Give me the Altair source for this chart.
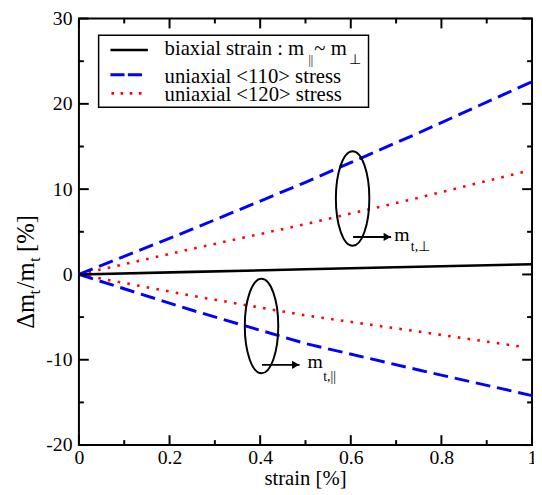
import altair as alt
import pandas as pd

FONT = "Liberation Serif"

# ---- data ----
strain = [0.0, 0.25, 0.5, 0.75, 1.0]
strain_red = [0.0, 0.25, 0.5, 0.75, 0.98]
biaxial = [0.0, 0.3, 0.6, 0.9, 1.2]
u110_perp = [0.0, 5.3, 10.8, 16.6, 22.6]
u110_par = [0.0, -4.2, -8.1, -11.2, -14.2]
u120_perp = [0.0, 3.0, 5.9, 9.0, 12.0]
u120_par = [0.0, -2.5, -4.8, -6.7, -8.5]

x_major = [0, 0.2, 0.4, 0.6, 0.8, 1]
x_minor = [0.1, 0.3, 0.5, 0.7, 0.9]
y_major = [-20, -10, 0, 10, 20, 30]
y_minor = [-15, -5, 5, 15, 25]

ellipse_x = [0.604, 0.403]
ellipse_y = [8.9, -6.05]
arrow_x = [0.605, 0.404]
arrow_x2 = [0.689, 0.487]
arrow_y = [4.4, -10.6]

W, H = 460, 433

xscale = alt.Scale(domain=[0, 1], nice=False, zero=False)
yscale = alt.Scale(domain=[-20, 30], nice=False, zero=False)
xaxis = alt.Axis(values=x_major, ticks=False, domain=False, grid=False, labelFontSize=20,
                 labelFont=FONT, labelPadding=3, labelFlush=False, labelColor="black",
                 labelExpr="'' + datum.value", title=None)
yaxis = alt.Axis(values=y_major, ticks=False, domain=False, grid=False, labelFontSize=20,
                 labelFont=FONT, labelPadding=7, labelColor="black",
                 labelExpr="datum.value < 0 ? '-' + abs(datum.value) : '' + datum.value", title=None)


def X(f):
    return alt.X(f"{f}:Q", scale=xscale, axis=xaxis)


def Y(f):
    return alt.Y(f"{f}:Q", scale=yscale, axis=yaxis)


def branch_df(xs, ys, name):
    return pd.DataFrame({"x": xs, "y": ys, "b": name})


black_df = branch_df(strain, biaxial, "bi")
blue_df = pd.concat([branch_df(strain, u110_perp, "perp"), branch_df(strain, u110_par, "par")])
red_df = pd.concat([branch_df(strain_red, u120_perp, "perp"), branch_df(strain_red, u120_par, "par")])

red = alt.Chart(red_df).mark_line(color="#ff0000", strokeWidth=2.6, strokeDash=[2.6, 7.4],
                                  strokeCap="butt").encode(x=X("x"), y=Y("y"), detail="b:N")
blue = alt.Chart(blue_df).mark_line(color="#0000ff", strokeWidth=3, strokeDash=[15, 7]).encode(
    x=X("x"), y=Y("y"), detail="b:N")
black = alt.Chart(black_df).mark_line(color="black", strokeWidth=2.6).encode(x=X("x"), y=Y("y"))

origin = alt.Chart(pd.DataFrame({"x": [0.0], "y": [0.0]})).mark_point(
    shape="triangle-left", filled=True, color="#0000ff", size=45, xOffset=3, opacity=1
).encode(x=X("x"), y=Y("y"))

# inward ticks on all four sides
ymaj = pd.DataFrame({"y": y_major})
ymin = pd.DataFrame({"y": y_minor})
xmaj = pd.DataFrame({"x": x_major})
xmin = pd.DataFrame({"x": x_minor})
tick_layers = []
for df, L in ((ymaj, 10), (ymin, 5)):
    tick_layers.append(alt.Chart(df).mark_rule(color="black", strokeWidth=2).encode(
        y=Y("y"), x=alt.value(0), x2=alt.value(L)))
    tick_layers.append(alt.Chart(df).mark_rule(color="black", strokeWidth=2).encode(
        y=Y("y"), x=alt.value(W - L), x2=alt.value(W)))
for df, L in ((xmaj, 10), (xmin, 5)):
    tick_layers.append(alt.Chart(df).mark_rule(color="black", strokeWidth=2).encode(
        x=X("x"), y=alt.value(H), y2=alt.value(H - L)))
    tick_layers.append(alt.Chart(df).mark_rule(color="black", strokeWidth=2).encode(
        x=X("x"), y=alt.value(0), y2=alt.value(L)))

# ellipses and arrows
k = 0.5523
a = 0.354
ELL = (f"M 0 -1 C {a*k:.4f} -1 {a:.4f} {-k:.4f} {a:.4f} 0 "
       f"C {a:.4f} {k:.4f} {a*k:.4f} 1 0 1 "
       f"C {-a*k:.4f} 1 {-a:.4f} {k:.4f} {-a:.4f} 0 "
       f"C {-a:.4f} {-k:.4f} {-a*k:.4f} -1 0 -1 Z")
ell_df = pd.DataFrame({"x": ellipse_x, "y": ellipse_y})
ellipses = alt.Chart(ell_df).mark_point(shape=ELL, size=9216, filled=False, color="black",
                                        strokeWidth=2, opacity=1).encode(x=X("x"), y=Y("y"))
arr_df = pd.DataFrame({"x": arrow_x, "x2": arrow_x2, "y": arrow_y})
arrows = alt.Chart(arr_df).mark_rule(color="black", strokeWidth=2).encode(
    x=X("x"), x2="x2:Q", y=Y("y"))
heads = alt.Chart(arr_df).mark_point(shape="triangle-right", filled=True, color="black",
                                     size=70, xOffset=-4, opacity=1).encode(x=X("x2"), y=Y("y"))

one = pd.DataFrame({"k": [0]})


def txt(s, px, py, size=21, angle=0, align="left"):
    return alt.Chart(one).mark_text(text=s, fontSize=size, font=FONT, align=align,
                                    baseline="alphabetic", angle=angle, color="black").encode(
        x=alt.value(px), y=alt.value(py))


# legend box
legend_box = alt.Chart(one).mark_rect(fill="white", stroke="black", strokeWidth=1.5).encode(
    x=alt.value(20), x2=alt.value(294), y=alt.value(17), y2=alt.value(90))
leg_black = alt.Chart(one).mark_rule(color="black", strokeWidth=2.6).encode(
    x=alt.value(32), x2=alt.value(70), y=alt.value(32))
leg_blue = alt.Chart(one).mark_rule(color="#0000ff", strokeWidth=3, strokeDash=[14.3, 3.4]).encode(
    x=alt.value(32), x2=alt.value(64), y=alt.value(57))
leg_red = alt.Chart(one).mark_rule(color="#ff0000", strokeWidth=2.6, strokeDash=[2.6, 6.7]).encode(
    x=alt.value(33), x2=alt.value(64), y=alt.value(76))

texts = [
    txt("biaxial strain : m", 87, 37),
    txt("||", 233, 46, size=12),
    txt("~ m", 239, 37),
    txt("\u22a5", 274, 46, size=14),
    txt("uniaxial <110> stress", 87, 65),
    txt("uniaxial <120> stress", 87, 84),
    # annotations
    txt("m", 320, 226, size=20),
    txt("t,\u22a5", 337, 236, size=14),
    txt("m", 232, 355, size=20),
    txt("t,||", 248, 368, size=14),
    # x title
    txt("strain [%]", 230, 474, align="center"),
    # y title (rotated)
    txt("\u0394m", -46, 315, size=25, angle=270),
    txt("t", -40, 280, size=16, angle=270),
    txt("/m", -46, 274, size=25, angle=270),
    txt("t", -40, 247, size=16, angle=270),
    txt("[%]", -46, 237, size=25, angle=270),
]

chart = alt.layer(
    red, blue, black, origin, *tick_layers, ellipses, arrows, heads,
    legend_box, leg_black, leg_blue, leg_red, *texts
).properties(
    width=W, height=H,
    autosize=alt.AutoSizeParams(type="none"),
    padding={"left": 72, "top": 7, "right": 2, "bottom": 47},
).configure_view(stroke="black", strokeWidth=2)

chart.save("out.html", embed_options={"renderer": "svg", "actions": False})
